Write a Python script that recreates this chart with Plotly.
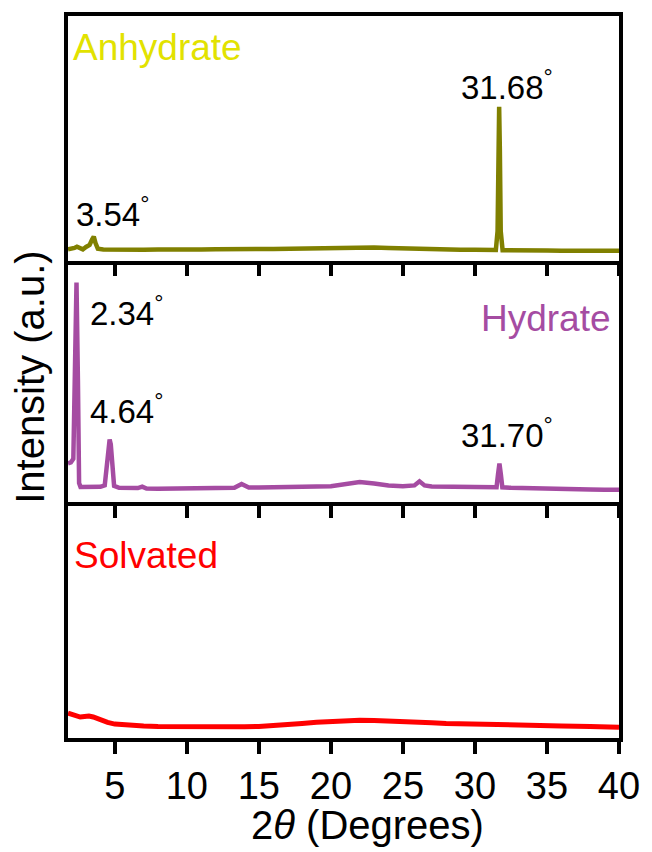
import plotly.graph_objects as go

# 2-theta positions (degrees) and intensities (a.u.) for the three powder patterns
anhydrate_x = [1.75, 1.95, 2.2, 2.37, 2.55, 2.78, 3.0, 3.25, 3.42, 3.54, 3.66, 3.82, 4.2, 5.0, 6.0,
               7.0, 8.0, 9.0, 10.0, 11.0, 12.0, 13.0, 14.0, 15.0, 16.0, 17.0, 18.0, 19.0, 20.0,
               21.0, 22.0, 23.0, 24.0, 25.0, 26.0, 27.0, 28.0, 29.0, 30.0, 31.0, 31.45, 31.57,
               31.63, 31.68, 31.73, 31.79, 31.92, 32.5, 33.0, 34.0, 35.0, 36.0, 37.0, 38.0, 39.0, 40.0]
anhydrate_y = [4.6, 4.7, 5.2, 5.7, 5.0, 4.6, 5.6, 6.4, 8.6, 9.8, 7.2, 4.9, 4.6, 4.5, 4.6,
               4.5, 4.6, 4.5, 4.6, 4.6, 4.7, 4.6, 4.7, 4.8, 4.8, 4.9, 5.0, 5.1, 5.3,
               5.6, 5.5, 5.4, 5.2, 5.0, 4.8, 4.7, 4.5, 4.5, 4.5, 4.4, 4.4, 12.0,
               45.0, 62.9, 45.0, 12.0, 4.3, 4.2, 4.2, 4.1, 4.2, 4.1, 4.1, 4.1, 4.1, 4.1]

hydrate_x = [1.75, 1.95, 2.12, 2.22, 2.34, 2.44, 2.52, 2.62, 3.0, 3.5, 4.0, 4.3, 4.45, 4.56, 4.64,
             4.72, 4.83, 4.95, 5.3, 6.0, 6.6, 6.9, 7.2, 8.0, 9.0, 10.0, 11.0, 12.0, 13.3, 13.8,
             14.3, 15.0, 16.0, 17.0, 18.0, 19.0, 20.0, 21.0, 22.0, 23.0, 24.0, 25.0, 25.8, 26.15,
             26.5, 27.0, 28.0, 29.0, 30.0, 31.0, 31.5, 31.6, 31.7, 31.8, 31.9, 32.5, 33.0, 34.0,
             35.0, 36.0, 37.0, 38.0, 39.0, 40.0]
hydrate_y = [16.1, 16.5, 18.0, 55.0, 90.9, 50.0, 8.0, 6.3, 6.2, 6.3, 6.4, 7.0, 15.0, 24.5, 26.0,
             24.0, 13.0, 6.8, 6.0, 5.8, 5.9, 6.5, 5.7, 5.6, 5.6, 5.6, 5.7, 5.8, 6.0, 7.6,
             6.1, 6.1, 6.1, 6.3, 6.4, 6.5, 6.7, 7.6, 8.4, 7.8, 7.0, 6.7, 7.0, 8.7,
             7.0, 6.6, 6.5, 6.4, 6.3, 6.2, 6.2, 11.5, 16.1, 11.5, 6.2, 6.0, 5.9, 5.8,
             5.6, 5.5, 5.4, 5.3, 5.2, 5.2]

solvated_x = [1.75, 2.0, 2.3, 2.6, 2.9, 3.2, 3.5, 4.0, 4.5, 5.0, 6.0, 7.0, 8.0, 9.0, 10.0, 11.0,
              12.0, 13.0, 14.0, 15.0, 16.0, 17.0, 18.0, 19.0, 20.0, 21.0, 22.0, 23.0, 24.0,
              25.0, 26.0, 27.0, 28.0, 29.0, 30.0, 32.0, 34.0, 36.0, 38.0, 40.0]
solvated_y = [10.6, 10.2, 9.3, 8.9, 9.1, 9.3, 8.9, 7.6, 6.6, 5.9, 5.3, 5.1, 4.9, 4.8, 4.8, 4.7,
              4.7, 4.8, 4.8, 4.9, 5.2, 5.7, 6.2, 6.7, 7.1, 7.3, 7.5, 7.4, 7.3,
              7.1, 6.8, 6.5, 6.2, 6.0, 5.8, 5.5, 5.3, 5.1, 4.9, 4.6]

# peak positions that get a text label, per pattern
anhydrate_peaks = [3.54, 31.68]
hydrate_peaks = [2.34, 4.64, 31.70]

x_ticks = [5, 10, 15, 20, 25, 30, 35, 40]
X_RANGE = [1.75, 40]

FONT = "Liberation Sans, Arial, sans-serif"
OLIVE = "#808000"
PURPLE = "#A54CA2"
RED = "#FF0000"

W, H = 652, 852
L, R, T, B = 68, 28, 15, 114
PH = H - T - B          # plot-area height in px
PW = W - L - R          # plot-area width in px
LINE_W = 3.5
TICK_LEN = 12

# panel boundaries (px from top of page)
top_b, mid_b = 260, 502


def frac(py):
    """page y pixel -> paper fraction"""
    return (H - B - py) / PH


dom_top = [frac(top_b), 1.0]
dom_mid = [frac(mid_b), frac(top_b)]
dom_bot = [0.0, frac(mid_b)]

fig = go.Figure()
fig.add_trace(go.Scatter(x=anhydrate_x, y=anhydrate_y, mode="lines", xaxis="x", yaxis="y",
                         line=dict(color=OLIVE, width=4.5)))
fig.add_trace(go.Scatter(x=hydrate_x, y=hydrate_y, mode="lines", xaxis="x2", yaxis="y2",
                         line=dict(color=PURPLE, width=4.5)))
fig.add_trace(go.Scatter(x=solvated_x, y=solvated_y, mode="lines", xaxis="x3", yaxis="y3",
                         line=dict(color=RED, width=5)))


def xaxis(anchor, mirror, labels):
    return dict(anchor=anchor, domain=[0, 1], range=X_RANGE, tickmode="array",
                tickvals=x_ticks, ticks="outside", ticklen=TICK_LEN, tickwidth=3.5,
                tickcolor="#000000", showticklabels=labels,
                tickfont=dict(family=FONT, size=38, color="black"),
                showline=True, linecolor="black", linewidth=LINE_W, mirror=mirror,
                showgrid=False, zeroline=False)


def yaxis(anchor, domain):
    return dict(anchor=anchor, domain=domain, range=[0, 100], showticklabels=False,
                ticks="", showline=True, linecolor="black", linewidth=LINE_W, mirror=True,
                showgrid=False, zeroline=False)


fig.update_layout(
    xaxis=xaxis("y", True, False),
    xaxis2=xaxis("y2", False, False),
    xaxis3=xaxis("y3", False, True),
    yaxis=yaxis("x", dom_top),
    yaxis2=yaxis("x2", dom_mid),
    yaxis3=yaxis("x3", dom_bot),
)

# downward tick marks under each panel's bottom edge (paper-referenced, never clipped)
shapes = []
for bottom_px in (top_b, mid_b, H - B):
    y_top = frac(bottom_px + LINE_W / 2)
    y_end = frac(bottom_px + LINE_W / 2 + TICK_LEN)
    for t in x_ticks:
        xp = (t - X_RANGE[0]) / (X_RANGE[1] - X_RANGE[0])
        shapes.append(dict(type="line", xref="paper", yref="paper", x0=xp, x1=xp,
                           y0=y_top, y1=y_end, layer="above",
                           line=dict(color="#000000", width=3.5)))

annotations = []


def peak_label(value, xpos, ydom, xref, yref):
    # label text is taken from the peak position itself
    return dict(text=f"{value:.2f}<sup>°</sup>", x=xpos, y=ydom, xref=xref, yref=yref,
                xanchor="left", yanchor="middle", showarrow=False,
                font=dict(family=FONT, size=33, color="black"))


annotations.append(peak_label(anhydrate_peaks[0], 2.15, 0.20, "x", "y domain"))
annotations.append(peak_label(anhydrate_peaks[1], 28.9, 0.72, "x", "y domain"))
annotations.append(peak_label(hydrate_peaks[0], 3.12, 0.79, "x2", "y2 domain"))
annotations.append(peak_label(hydrate_peaks[1], 3.12, 0.385, "x2", "y2 domain"))
annotations.append(peak_label(hydrate_peaks[2], 28.9, 0.285, "x2", "y2 domain"))

# sample names
annotations.append(dict(text="Anhydrate", x=0.005, y=0.872, xref="x domain", yref="y domain",
                        xanchor="left", yanchor="middle", showarrow=False,
                        font=dict(family=FONT, size=37, color="#E2E200")))
annotations.append(dict(text="Hydrate", x=0.99, y=0.76, xref="x2 domain", yref="y2 domain",
                        xanchor="right", yanchor="middle", showarrow=False,
                        font=dict(family=FONT, size=37, color=PURPLE)))
annotations.append(dict(text="Solvated", x=0.008, y=0.775, xref="x3 domain", yref="y3 domain",
                        xanchor="left", yanchor="middle", showarrow=False,
                        font=dict(family=FONT, size=37, color=RED)))

# axis titles
annotations.append(dict(text="Intensity (a.u.)", textangle=-90,
                        x=(30 - L) / PW, y=frac(377),
                        xref="paper", yref="paper", xanchor="center", yanchor="middle",
                        showarrow=False, font=dict(family=FONT, size=40, color="black")))
annotations.append(dict(text="2<i>θ</i> (Degrees)",
                        x=(370 - L) / PW, y=frac(825),
                        xref="paper", yref="paper", xanchor="center", yanchor="middle",
                        showarrow=False, font=dict(family=FONT, size=40, color="black")))

# transparent panel backgrounds so the tick marks of one panel stay visible over the next
fig.update_layout(annotations=annotations, shapes=shapes, width=W, height=H,
                  margin=dict(l=L, r=R, t=T, b=B),
                  paper_bgcolor="white", plot_bgcolor="rgba(0,0,0,0)", showlegend=False)

fig.write_html("out.html")
